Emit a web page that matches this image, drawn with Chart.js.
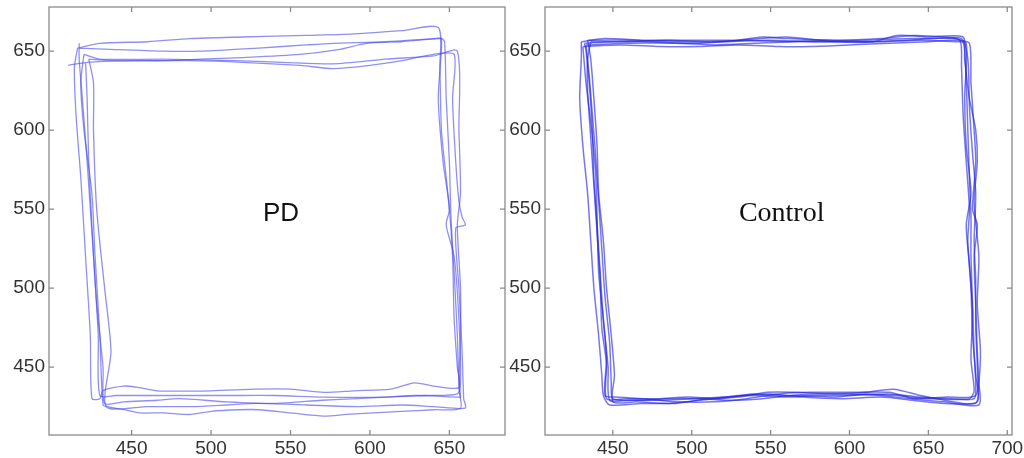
<!DOCTYPE html>
<html>
<head>
<meta charset="utf-8">
<script src="https://cdn.jsdelivr.net/npm/chart.js@4.4.1/dist/chart.umd.min.js"></script>
<style>
    html, body { margin: 0; padding: 0; background: #fff; }
    .panel { position: absolute; top: 0; height: 458px; }
    #pdPanel { left: 0; width: 512px; }
    #controlPanel { left: 480px; width: 544px; }
</style>
</head>
<body>
<div class="panel" id="pdPanel"><canvas id="pdChart"></canvas></div>
<div class="panel" id="controlPanel"><canvas id="controlChart"></canvas></div>
<script>
// Tick labels
const pdXTicks = [450, 500, 550, 600, 650];
const controlXTicks = [450, 500, 550, 600, 650, 700];
const yTicks = [450, 500, 550, 600, 650];

// PD traces, [x, y], one loop per array
const pdLoop1 = [[416,652],[430,655],[460,656],[487,658],[520,659],[560,660],[590,661],[620,663],[643,665],[644,640],[645,600],[648,570],[650,550],[652,520],[653,480],[655,450],[656,437],[640,438],[628,440],[613,436],[590,435],[571,434],[550,436],[529,436],[500,435],[466,435],[455,437],[445,438],[432,435],[430,430],[425,430],[424,470],[421,520],[418,570],[415,610],[414,640],[416,652]];
const pdLoop2 = [[417,652],[440,651],[470,650],[493,650],[530,652],[560,654],[577,655],[610,656],[640,658],[645,658],[643,620],[646,580],[650,550],[648,540],[653,520],[656,480],[657,440],[655,433],[634,432],[610,431],[571,431],[540,432],[510,432],[487,432],[460,432],[440,432],[430,432],[429,470],[426,520],[422,580],[419,620],[417,645],[417,655]];
const pdLoop3 = [[410,641],[422,643],[450,644],[470,644],[493,645],[520,646],[556,648],[580,651],[598,655],[620,656],[645,658],[647,656],[648,620],[650,580],[651,545],[653,510],[655,470],[656,440],[657,431],[655,431],[630,432],[610,431],[592,430],[570,429],[540,427],[510,428],[480,430],[466,429],[445,428],[433,427],[432,450],[428,490],[425,540],[423,580],[422,620],[421,643]];
const pdLoop4 = [[423,645],[440,644],[485,644],[520,643],[556,641],[577,639],[600,641],[620,644],[640,648],[653,648],[652,620],[654,580],[656,555],[658,545],[660,540],[654,538],[656,500],[658,460],[659,430],[660,424],[640,425],[620,426],[592,425],[560,426],[529,427],[510,426],[487,425],[460,425],[434,425],[437,460],[433,500],[428,550],[426,600],[426,630],[423,645]];
const pdLoop5 = [[420,648],[430,645],[470,645],[514,644],[545,643],[577,642],[610,645],[640,647],[655,650],[656,600],[657,560],[655,540],[657,500],[657,470],[656,436],[657,424],[640,423],[620,422],[602,421],[585,420],[571,419],[550,421],[530,423],[518,423],[500,422],[487,420],[470,421],[455,421],[445,423],[435,425],[432,426],[430,470],[427,520],[425,560],[420,600],[418,630],[420,648]];

// Control traces
const controlLoop1 = [[432,655],[450,656],[470,656],[500,655],[520,656],[550,657],[580,656],[610,657],[640,658],[665,658],[672,656],[674,630],[675,600],[676,570],[677,545],[677,520],[678,490],[679,460],[680,440],[679,430],[665,430],[645,431],[625,433],[600,432],[580,432],[560,431],[540,432],[520,431],[500,430],[480,429],[460,429],[448,429],[447,450],[444,480],[442,510],[440,540],[438,570],[437,600],[435,630],[433,650],[432,655]];
const controlLoop2 = [[434,657],[460,657],[490,656],[520,656],[545,659],[560,658],[590,657],[620,658],[640,660],[660,659],[670,657],[671,640],[672,610],[674,580],[676,550],[675,530],[677,500],[678,470],[680,445],[681,428],[660,427],[640,429],[620,431],[595,430],[570,431],[550,433],[530,432],[505,429],[485,427],[465,428],[450,428],[451,445],[449,470],[446,500],[444,530],[441,560],[440,590],[438,620],[436,645],[434,657]];
const controlLoop3 = [[431,653],[455,654],[480,653],[505,653],[530,654],[555,653],[575,653],[600,654],[625,655],[650,656],[668,657],[676,655],[677,630],[679,600],[680,580],[678,550],[681,540],[679,520],[680,490],[681,460],[682,440],[682,426],[660,428],[640,430],[625,434],[600,434],[575,434],[555,433],[535,430],[515,428],[490,428],[470,430],[452,431],[445,432],[446,455],[444,480],[441,510],[440,545],[439,575],[436,605],[433,630],[431,653]];
const controlLoop4 = [[430,656],[445,658],[470,657],[500,657],[530,657],[560,659],[590,656],[615,656],[630,660],[650,659],[672,659],[673,645],[676,620],[680,600],[681,580],[679,555],[682,520],[681,490],[683,460],[682,440],[680,427],[660,429],[645,432],[628,436],[610,434],[590,433],[565,434],[548,434],[530,431],[510,430],[490,427],[468,427],[448,426],[444,432],[443,445],[441,470],[438,500],[436,530],[434,560],[431,590],[429,620],[430,645],[430,656]];
const controlLoop5 = [[433,654],[460,655],[490,655],[515,654],[540,655],[565,656],[595,656],[620,656],[645,657],[668,656],[674,655],[673,620],[674,590],[677,560],[674,540],[676,515],[678,485],[677,455],[679,435],[676,430],[650,430],[630,432],[610,433],[590,431],[565,432],[545,430],[525,429],[505,430],[485,430],[465,429],[450,430],[449,440],[448,465],[445,495],[443,525],[441,555],[439,585],[437,610],[435,635],[433,654]];
const controlLoop6 = [[436,656],[458,656],[485,657],[510,656],[535,657],[560,656],[585,657],[610,656],[636,657],[655,658],[671,658],[675,645],[676,615],[678,585],[680,560],[679,530],[680,505],[680,475],[681,450],[680,432],[662,431],[640,430],[620,432],[598,433],[578,433],[557,432],[538,433],[518,430],[498,431],[478,430],[458,430],[446,430],[446,452],[443,475],[442,505],[440,535],[438,565],[436,595],[434,625],[434,645],[436,656]];

const pdLoops = [pdLoop1, pdLoop2, pdLoop3, pdLoop4, pdLoop5];
const controlLoops = [controlLoop1, controlLoop2, controlLoop3, controlLoop4, controlLoop5, controlLoop6];

const FRAME_COLOR = '#8a8a8a';
const TICK_FONT = { family: 'Liberation Sans, Arial, sans-serif', size: 19 };

function toPoints(loop) {
    return loop.map(p => ({ x: p[0], y: p[1] }));
}

// Box round the plot area with short inward ticks on all four sides
const frameTicks = {
    id: 'frameTicks',
    afterDraw(chart) {
        const { ctx, chartArea: a, scales } = chart;
        const len = 5;
        ctx.save();
        ctx.strokeStyle = FRAME_COLOR;
        ctx.lineWidth = 1.3;
        ctx.strokeRect(a.left, a.top, a.right - a.left, a.bottom - a.top);
        ctx.beginPath();
        scales.x.ticks.forEach(t => {
            const px = scales.x.getPixelForValue(t.value);
            ctx.moveTo(px, a.bottom); ctx.lineTo(px, a.bottom - len);
            ctx.moveTo(px, a.top); ctx.lineTo(px, a.top + len);
        });
        scales.y.ticks.forEach(t => {
            const py = scales.y.getPixelForValue(t.value);
            ctx.moveTo(a.left, py); ctx.lineTo(a.left + len, py);
            ctx.moveTo(a.right, py); ctx.lineTo(a.right - len, py);
        });
        ctx.stroke();
        ctx.restore();
    }
};

// Panel name written inside the square
const panelLabel = {
    id: 'panelLabel',
    afterDatasetsDraw(chart, args, opts) {
        const { ctx, scales } = chart;
        ctx.save();
        ctx.font = opts.font;
        ctx.fillStyle = '#111';
        ctx.textAlign = 'center';
        ctx.textBaseline = 'middle';
        ctx.fillText(opts.text, scales.x.getPixelForValue(opts.x), scales.y.getPixelForValue(opts.y));
        ctx.restore();
    }
};

function makeChart(canvasId, loops, xTicks, xRange, yAxisWidth, rightPad, label, lineColor, lineWidth) {
    const ctx = document.getElementById(canvasId).getContext('2d');
    return new Chart(ctx, {
        type: 'scatter',
        data: {
            datasets: loops.map(loop => ({
                data: toPoints(loop),
                showLine: true,
                borderColor: lineColor,
                borderWidth: lineWidth,
                pointRadius: 0,
                tension: 0.25,
                fill: false
            }))
        },
        options: {
            responsive: true,
            maintainAspectRatio: false,
            animation: false,
            layout: { padding: { top: 7, right: rightPad, left: 0, bottom: 0 } },
            scales: {
                x: {
                    type: 'linear',
                    min: xRange[0],
                    max: xRange[1],
                    grid: { display: false, drawTicks: false },
                    border: { display: false },
                    ticks: { color: '#333', font: TICK_FONT, padding: 2 },
                    afterBuildTicks: scale => { scale.ticks = xTicks.map(v => ({ value: v })); },
                    afterFit: scale => {
                        scale.height = 23;
                        scale.paddingLeft = 0;
                        scale.paddingRight = 0;
                    }
                },
                y: {
                    type: 'linear',
                    min: 407,
                    max: 678,
                    grid: { display: false, drawTicks: false },
                    border: { display: false },
                    ticks: { color: '#333', font: TICK_FONT, padding: 4 },
                    afterBuildTicks: scale => { scale.ticks = yTicks.map(v => ({ value: v })); },
                    afterFit: scale => {
                        scale.width = yAxisWidth;
                        scale.paddingTop = 0;
                        scale.paddingBottom = 0;
                    }
                }
            },
            plugins: {
                legend: { display: false },
                tooltip: { enabled: false },
                panelLabel: label
            }
        },
        plugins: [frameTicks, panelLabel]
    });
}

makeChart('pdChart', pdLoops, pdXTicks, [398, 685], 49, 7,
    { text: 'PD', x: 544, y: 547, font: '26px "Liberation Sans", Arial, sans-serif' },
    'rgba(70, 70, 235, 0.6)', 1.3);

makeChart('controlChart', controlLoops, controlXTicks, [407, 703], 65, 12,
    { text: 'Control', x: 557, y: 547, font: '28px "Liberation Serif", "Times New Roman", serif' },
    'rgba(35, 35, 225, 0.62)', 1.5);
</script>
</body>
</html>
